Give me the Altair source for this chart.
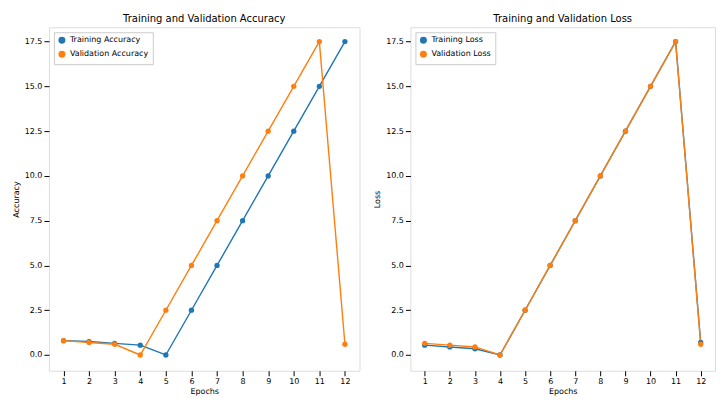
import altair as alt
import pandas as pd

epochs = list(range(1, 13))
train_acc = [0.8, 0.75, 0.65, 0.55, 0.0, 2.5, 5.0, 7.5, 10.0, 12.5, 15.0, 17.5]
val_acc = [0.8, 0.7, 0.6, 0.0, 2.5, 5.0, 7.5, 10.0, 12.5, 15.0, 17.5, 0.6]
train_loss = [0.55, 0.45, 0.35, 0.0, 2.5, 5.0, 7.5, 10.0, 12.5, 15.0, 17.5, 0.7]
val_loss = [0.65, 0.55, 0.45, 0.0, 2.5, 5.0, 7.5, 10.0, 12.5, 15.0, 17.5, 0.6]
y_ticks = [0, 2.5, 5, 7.5, 10, 12.5, 15, 17.5]

acc_df = pd.DataFrame({
    "Epochs": epochs * 2,
    "value": train_acc + val_acc,
    "series": ["Training Accuracy"] * 12 + ["Validation Accuracy"] * 12,
})
loss_df = pd.DataFrame({
    "Epochs": epochs * 2,
    "value": train_loss + val_loss,
    "series": ["Training Loss"] * 12 + ["Validation Loss"] * 12,
})

FONT = "DejaVu Sans"


def panel(df, title, ytitle, names, width):
    return alt.Chart(df, title=alt.Title(title, fontSize=10, fontWeight="normal", font=FONT, offset=3)).mark_line(
        strokeWidth=1.4,
        point=alt.OverlayMarkDef(filled=True, size=28),
    ).encode(
        x=alt.X("Epochs:Q", scale=alt.Scale(domain=[0.43, 12.57], nice=False),
                axis=alt.Axis(values=epochs, format="d", title="Epochs", grid=False,
                              labelFontSize=8, titleFontSize=8, titleFontWeight="normal",
                              tickColor="black", domain=False, labelFont=FONT, titleFont=FONT,
                              titlePadding=2)),
        y=alt.Y("value:Q", scale=alt.Scale(domain=[-0.88, 18.3], nice=False, zero=False),
                axis=alt.Axis(values=y_ticks, format=".1f", title=ytitle, grid=False,
                              labelFontSize=8, titleFontSize=8, titleFontWeight="normal",
                              tickColor="black", domain=False, labelFont=FONT, titleFont=FONT,
                              titlePadding=4)),
        color=alt.Color("series:N",
                        scale=alt.Scale(domain=names, range=["#1f77b4", "#ff7f0e"]),
                        legend=alt.Legend(title=None, orient="top-left", labelFontSize=8,
                                          labelFont=FONT, strokeColor="#cccccc",
                                          fillColor="white", padding=4, offset=5,
                                          symbolType="circle", symbolSize=30)),
        order="Epochs:Q",
    ).properties(width=width, height=344)


left = panel(acc_df, "Training and Validation Accuracy", "Accuracy",
             ["Training Accuracy", "Validation Accuracy"], 311)
right = panel(loss_df, "Training and Validation Loss", "Loss",
              ["Training Loss", "Validation Loss"], 305)

chart = alt.hconcat(left, right, spacing=12).resolve_scale(color="independent").configure_view(
    stroke="#333333", strokeWidth=1
).configure(background="white", padding={"top": 5, "left": 3, "right": 0, "bottom": 0})

chart.save("out.html", embed_options={"renderer": "svg", "actions": False})
